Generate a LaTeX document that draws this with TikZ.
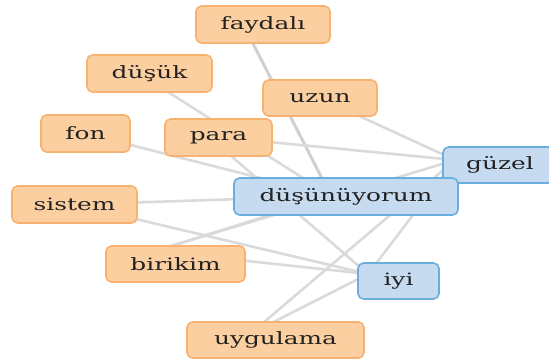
\documentclass[tikz,border=0pt]{standalone}
\usepackage{fontspec}
\setmainfont{DejaVu Serif}
\usepackage{graphicx}
\definecolor{ofill}{HTML}{FCCFA0}
\definecolor{odraw}{HTML}{F7B272}
\definecolor{bfill}{HTML}{C6DAF0}
\definecolor{bdraw}{HTML}{6AAEDD}
\definecolor{txt}{HTML}{222222}
\definecolor{lnk}{HTML}{DADADA}
\definecolor{lnkdark}{HTML}{D0D0D0}
\newcommand{\wstretch}[1]{\scalebox{1.46}[1]{#1}}
\begin{document}
\begin{tikzpicture}[x=1pt,y=-1pt,
  word/.style={rounded corners=5.5pt, line width=1.6pt, minimum height=37pt,
    inner sep=0pt, text=txt, font=\fontsize{17}{19}\selectfont},
  wordo/.style={word, fill=ofill, draw=odraw},
  wordb/.style={word, fill=bfill, draw=bdraw},
  link/.style={draw=lnk, line width=2.6pt}]
\useasboundingbox (0,0) rectangle (549,360);
\clip (0,0) rectangle (549,360);
% hubs (edge end points)
\coordinate (h-faydali) at (243,24);
\coordinate (h-dusuk) at (140,74);
\coordinate (h-uzun) at (320,98);
\coordinate (h-fon) at (85.5,133.5);
\coordinate (h-para) at (208,136);
\coordinate (h-guzel) at (455,160);
\coordinate (h-dus) at (331,196);
\coordinate (h-sistem) at (74.5,204.5);
\coordinate (h-birikim) at (155,251);
\coordinate (h-iyi) at (368,274);
\coordinate (h-uyg) at (250,334);
% links
\draw[link, draw=lnkdark, line width=3pt] (h-faydali) -- (h-dus);
\draw[link] (h-dusuk) -- (h-dus);
\draw[link] (h-uzun) -- (h-guzel);
\draw[link] (h-para) -- (h-guzel);
\draw[link] (h-fon) -- (h-dus);
\draw[link] (h-para) -- (h-iyi);
\draw[link] (h-sistem) -- (h-dus);
\draw[link] (h-sistem) -- (h-iyi);
\draw[link] (h-birikim) -- (h-iyi);
\draw[link] (h-birikim) -- (h-guzel);
\draw[link] (h-birikim) -- (h-dus);
\draw[link] (h-guzel) -- (h-iyi);
\draw[link] (h-guzel) -- (h-uyg);
\draw[link] (h-iyi) -- (h-uyg);
% nodes
\node[wordo, minimum width=134pt] (faydali) at (263,24.5) {\wstretch{faydalı}};
\node[wordo, minimum width=125pt] (dusuk) at (149.5,73.5) {\wstretch{düşük}};
\node[wordo, minimum width=114pt, minimum height=36pt] (uzun) at (320,98) {\wstretch{uzun}};
\node[wordo, minimum width=89pt] (fon) at (85.5,133.5) {\wstretch{fon}};
\node[wordo, minimum width=107pt] (para) at (218.5,137.5) {\wstretch{para}};
\node[wordb, minimum width=114pt, minimum height=36pt] (guzel) at (500,165) {\wstretch{güzel}};
\node[wordb, minimum width=224pt] (dus) at (346,196.5) {\wstretch{düşünüyorum}};
\node[wordo, minimum width=125pt] (sistem) at (74.5,204.5) {\wstretch{sistem}};
\node[wordo, minimum width=139pt, minimum height=36pt] (birikim) at (175.5,264) {\wstretch{birikim}};
\node[wordb, minimum width=81pt, minimum height=36pt] (iyi) at (398.5,281) {\wstretch{iyi}};
\node[wordo, minimum width=177pt, minimum height=36pt] (uyg) at (275.5,340) {\wstretch{uygulama}};
\end{tikzpicture}
\end{document}
